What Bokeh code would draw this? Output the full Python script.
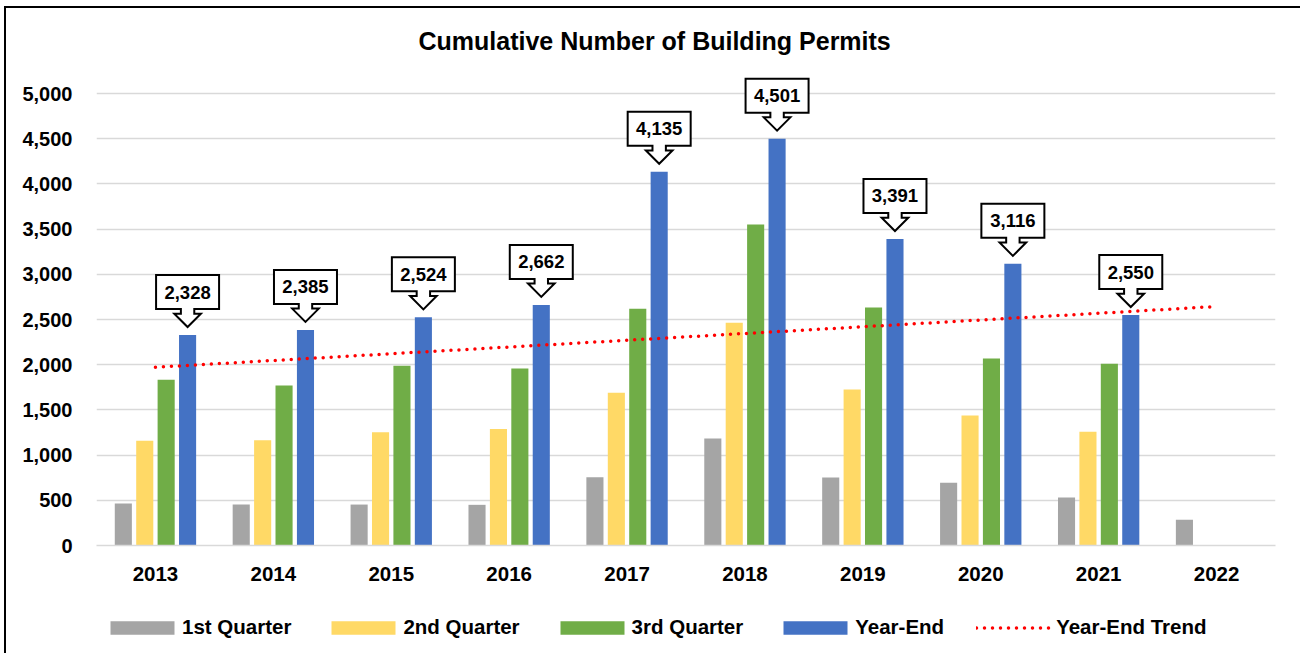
from bokeh.plotting import figure
from bokeh.layouts import column
from bokeh.models import (ColumnDataSource, Range1d, FixedTicker, NumeralTickFormatter,
                          Legend, LegendItem)
from bokeh.transform import dodge
from bokeh.core.properties import value
from bokeh.embed import file_html
from bokeh.resources import INLINE

nan = float("nan")

# ---------------- data ----------------
years = [2013, 2014, 2015, 2016, 2017, 2018, 2019, 2020, 2021, 2022]
q1 = [465, 453, 453, 450, 755, 1184, 752, 693, 531, 284]
q2 = [1160, 1165, 1253, 1290, 1689, 2463, 1726, 1438, 1258, nan]
q3 = [1833, 1770, 1988, 1958, 2618, 3551, 2633, 2069, 2010, nan]
year_end = [2328, 2385, 2524, 2662, 4135, 4501, 3391, 3116, 2550, nan]
trend_years = [2013, 2022]
trend_values = [1972, 2644]
y_ticks = [0, 500, 1000, 1500, 2000, 2500, 3000, 3500, 4000, 4500, 5000]
series_names = ["1st Quarter", "2nd Quarter", "3rd Quarter", "Year-End", "Year-End Trend"]
title_text = "Cumulative Number of Building Permits"

# ---------------- styling ----------------
COLORS = ["#A5A5A5", "#FFD966", "#70AD47", "#4472C4"]
TREND_COLOR = "#FF0000"
GRID_COLOR = "#D9D9D9"
FONT = "Liberation Sans"

W, H = 1294, 592
ML, MR, MT, MB = 90, 25, 62, 55
FW = W - ML - MR
FH = H - MT - MB
X0, X1 = 2012.5, 2022.5
Y0, Y1 = 0, 5255
XS = FW / (X1 - X0)   # px per year
YS = FH / (Y1 - Y0)   # px per permit

BAR_W = 0.145
OFFS = [-0.2725, -0.0908, 0.0908, 0.2725]

src = ColumnDataSource(dict(year=years, q1=q1, q2=q2, q3=q3, ye=year_end))

p = figure(width=W, height=H, output_backend="svg", toolbar_location=None,
           x_range=Range1d(X0, X1), y_range=Range1d(Y0, Y1),
           min_border_left=ML, min_border_right=MR, min_border_top=MT,
           min_border_bottom=MB, background_fill_color="white",
           border_fill_color="white", outline_line_color=None)

# title
p.title.text = title_text
p.title.align = "left"
p.title.offset = 322
p.title.text_font = FONT
p.title.text_font_style = "bold"
p.title.text_font_size = "25px"
p.title.text_color = "#000000"
p.title.standoff = 31

# axes
p.xaxis.ticker = FixedTicker(ticks=years)
p.xaxis.major_label_overrides = {y: str(y) for y in years}
p.xaxis.major_tick_line_color = None
p.xaxis.minor_tick_line_color = None
p.xaxis.axis_line_color = GRID_COLOR
p.xaxis.axis_line_width = 1.5
p.xaxis.major_label_text_font = FONT
p.xaxis.major_label_text_font_style = "bold"
p.xaxis.major_label_text_font_size = "20.5px"
p.xaxis.major_label_text_color = "#000000"
p.xaxis.major_label_standoff = 15

p.yaxis.ticker = FixedTicker(ticks=y_ticks)
p.yaxis.formatter = NumeralTickFormatter(format="0,0")
p.yaxis.major_tick_line_color = None
p.yaxis.minor_tick_line_color = None
p.yaxis.axis_line_color = None
p.yaxis.major_label_text_font = FONT
p.yaxis.major_label_text_font_style = "bold"
p.yaxis.major_label_text_font_size = "20px"
p.yaxis.major_label_text_color = "#000000"
p.yaxis.major_label_standoff = 18

p.xgrid.grid_line_color = None
p.ygrid.grid_line_color = GRID_COLOR
p.ygrid.grid_line_width = 1.5

# bars
cols = ["q1", "q2", "q3", "ye"]
for col, off, color in zip(cols, OFFS, COLORS):
    p.vbar(x=dodge("year", off, range=p.x_range), top=col, bottom=0, width=BAR_W,
           source=src, fill_color=color, line_color=None)

# trend line
p.line(trend_years, trend_values, line_color=TREND_COLOR, line_width=3.5,
       line_dash="0 8", line_cap="round")

# callouts on year-end bars
shape_px = [(-31.5, 60), (31.5, 60), (31.5, 26), (6.7, 26), (6.7, 21.3), (13.3, 21.3),
            (0, 8), (-13.3, 21.3), (-6.7, 21.3), (-6.7, 26), (-31.5, 26)]
cx, cy, cxs, cys, ctext = [], [], [], [], []
for yr, v in zip(years, year_end):
    if v != v:
        continue
    bx = yr + OFFS[3]
    cxs.append([bx + dx / XS for dx, dy in shape_px])
    cys.append([v + dy / YS for dx, dy in shape_px])
    cx.append(bx)
    cy.append(v + 43 / YS)
    ctext.append(f"{int(v):,}")

p.patches(cxs, cys, fill_color="white", line_color="black", line_width=2,
          line_join="miter")
p.text(x=cx, y=cy, text=ctext, text_align="center", text_baseline="middle",
       text_font=value(FONT), text_font_style="bold", text_font_size="18.5px",
       text_color="black")

# ---------------- legend strip (separate figure below the chart) ----------------
LH = 53
lg = figure(width=W, height=LH, output_backend="svg", toolbar_location=None,
            x_range=Range1d(0, 1), y_range=Range1d(0, 1),
            x_axis_type=None, y_axis_type=None,
            min_border_left=0, min_border_right=0, min_border_top=0, min_border_bottom=0,
            background_fill_color="white", border_fill_color="white",
            outline_line_color=None)
lg.xgrid.grid_line_color = None
lg.ygrid.grid_line_color = None

# legend-only renderers: one point each, placed outside the visible range
swatches = []
for color in COLORS:
    swatches.append(lg.vbar(x=[-5], top=[-5], bottom=[-6], width=0.1,
                            fill_color=color, line_color=None))
swatches.append(lg.line(x=[-6, -5], y=[-6, -5], line_color=TREND_COLOR, line_width=3.5,
                        line_dash="0 8", line_cap="round"))

items = [LegendItem(label=n, renderers=[r]) for n, r in zip(series_names, swatches)]
legend = Legend(items=items, orientation="horizontal", location=(6, 14),
                glyph_width=80, glyph_height=17, label_standoff=0, spacing=32,
                padding=0, margin=0, border_line_color=None, background_fill_alpha=0,
                label_text_font=FONT, label_text_font_style="bold",
                label_text_font_size="20.5px", label_text_color="#000000",
                label_text_baseline="middle")
lg.add_layout(legend, "center")

layout = column(p, lg, spacing=0,
                styles={"margin-left": "4px", "margin-top": "6px",
                        "border-left": "2px solid #000000",
                        "border-top": "2px solid #000000"})

open("out.html", "w").write(file_html(layout, INLINE))
